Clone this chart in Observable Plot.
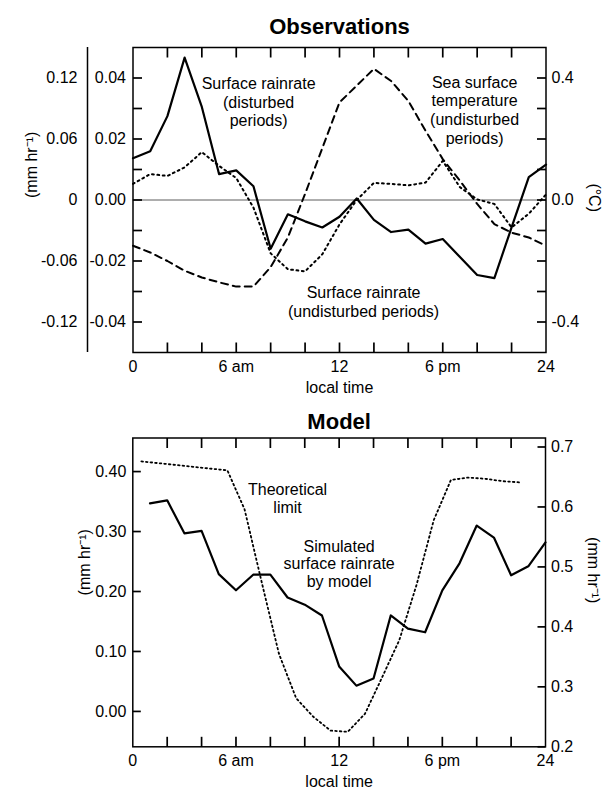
<!DOCTYPE html>
<html><head><meta charset="utf-8">
<script src="https://cdn.jsdelivr.net/npm/d3@7"></script>
<script src="https://cdn.jsdelivr.net/npm/@observablehq/plot@0.6"></script>
<style>
html,body{margin:0;padding:0;background:#fff;}
#chart svg{display:block;}
</style></head><body><div id="chart"></div>
<script>
// ---------- Observations panel data ----------
const obsHours = [0,1,2,3,4,5,6,7,8,9,10,11,12,13,14,15,16,17,18,19,20,21,22,23,24];
// Surface rainrate, disturbed periods (mm/hr, inner left axis)
const disturbedRain = [0.0137,0.016,0.0275,0.0467,0.0305,0.0085,0.0097,0.0045,-0.016,-0.0047,-0.007,-0.009,-0.0055,0.0005,-0.0065,-0.0105,-0.0097,-0.0143,-0.0128,-0.0187,-0.0246,-0.0256,-0.009,0.0075,0.0116];
// Surface rainrate, undisturbed periods (mm/hr, inner left axis)
const undisturbedRain = [0.0053,0.0085,0.0079,0.0107,0.0157,0.0112,0.0072,-0.0025,-0.0175,-0.0227,-0.0234,-0.0178,-0.008,0.0,0.0056,0.0053,0.0048,0.0057,0.0128,0.0042,0.0002,-0.0013,-0.009,-0.0045,0.0018];
// Sea surface temperature, undisturbed periods (deg C, right axis)
const seaSurfaceTemp = [-0.15,-0.172,-0.2,-0.232,-0.254,-0.27,-0.284,-0.284,-0.22,-0.123,0.02,0.17,0.32,0.375,0.43,0.39,0.325,0.227,0.134,0.063,-0.013,-0.079,-0.107,-0.123,-0.15];

const obsRainDomain = [-0.05, 0.05];
const obsTempDomain = [-0.5, 0.5];
const obsXTicks = [0, 6, 12, 18, 24];
const obsXLabels = ["0", "6 am", "12", "6 pm", "24"];
const minorXTicks = [2,4,6,8,10,12,14,16,18,20,22];
const obsRainTicks = [0.04, 0.02, 0, -0.02, -0.04];
const obsRainLabels = ["0.04", "0.02", "0.00", "-0.02", "-0.04"];
const obsOuterLabels = ["0.12", "0.06", "0", "-0.06", "-0.12"];
const obsMinorY = [-0.04,-0.03,-0.02,-0.01,0,0.01,0.02,0.03,0.04];
const obsTempTicks = [0.4, 0, -0.4];
const obsTempLabels = ["0.4", "0.0", "-0.4"];
const obsNotes = [
  {text: "Surface rainrate\n(disturbed\nperiods)", hour: 7.3, value: 0.0408},
  {text: "Sea surface\ntemperature\n(undisturbed\nperiods)", hour: 19.85, value: 0.0412},
  {text: "Surface rainrate\n(undisturbed periods)", hour: 13.4, value: -0.0278}
];

// ---------- Model panel data ----------
const modelHours = [1,2,3,4,5,6,7,8,9,10,11,12,13,14,15,16,17,18,19,20,21,22,23,24];
// Simulated surface rainrate (mm/hr, left axis)
const simulatedRain = [0.347,0.352,0.297,0.301,0.229,0.202,0.228,0.228,0.19,0.178,0.16,0.075,0.043,0.055,0.16,0.138,0.132,0.202,0.247,0.31,0.29,0.227,0.242,0.282];
const theoryHours = [0.5,1.5,2.5,3.5,4.5,5.5,6.5,7.5,8.5,9.5,10.5,11.5,12.5,13.5,14.5,15.5,16.5,17.5,18.5,19.5,20.5,21.5,22.5];
// Theoretical limit (mm/hr, right axis)
const theoreticalLimit = [0.676,0.673,0.67,0.667,0.664,0.661,0.596,0.474,0.355,0.281,0.25,0.227,0.225,0.255,0.316,0.378,0.47,0.578,0.645,0.649,0.647,0.643,0.641];

const modelLeftDomain = [-0.059, 0.456];
const modelRightDomain = [0.2, 0.715];
const modelLeftTicks = [0, 0.1, 0.2, 0.3, 0.4];
const modelLeftLabels = ["0.00", "0.10", "0.20", "0.30", "0.40"];
const modelRightTicks = [0.2, 0.3, 0.4, 0.5, 0.6, 0.7];
const modelRightLabels = ["0.2", "0.3", "0.4", "0.5", "0.6", "0.7"];
const modelNotes = [
  {text: "Theoretical\nlimit", hour: 9.0, value: 0.381},
  {text: "Simulated\nsurface rainrate\nby model", hour: 12.0, value: 0.287}
];

// ---------- helpers ----------
const font = "'Liberation Sans', Arial, Helvetica, sans-serif";
const mapDomain = (v, from, to) => to[0] + (v - from[0]) * (to[1] - to[0]) / (from[1] - from[0]);
const lookup = (keys, labels) => { const m = new Map(keys.map((k, i) => [+k.toFixed(6), labels[i]])); return d => m.get(+d.toFixed(6)); };
const ink = {stroke: "black", strokeWidth: 1.5};
const X_DOMAIN = [0, 24];

// inward tick marks drawn as links through the scales; length given in pixels
function inwardTicks(xTicks, yTicksLeft, yTicksRight, yDomain, plotW, plotH, xLen, yLen) {
  const dy = xLen * (yDomain[1] - yDomain[0]) / plotH;
  const dx = yLen * (X_DOMAIN[1] - X_DOMAIN[0]) / plotW;
  const opts = {stroke: "black", strokeWidth: 1.7, strokeLinecap: "butt"};
  return [
    Plot.link(xTicks, {x1: d => d, x2: d => d, y1: () => yDomain[0], y2: () => yDomain[0] + dy, ...opts}),
    Plot.link(xTicks, {x1: d => d, x2: d => d, y1: () => yDomain[1], y2: () => yDomain[1] - dy, ...opts}),
    Plot.link(yTicksLeft, {y1: d => d, y2: d => d, x1: () => X_DOMAIN[0], x2: () => X_DOMAIN[0] + dx, ...opts}),
    Plot.link(yTicksRight, {y1: d => d, y2: d => d, x1: () => X_DOMAIN[1], x2: () => X_DOMAIN[1] - dx, ...opts})
  ];
}

// ---------- Observations ----------
const obsRows = obsHours.map((h, i) => ({hour: h, dist: disturbedRain[i], undist: undisturbedRain[i], sst: mapDomain(seaSurfaceTemp[i], obsTempDomain, obsRainDomain)}));
const oW = 610, oH = 400, oM = {top: 47, right: 64.5, bottom: 48, left: 132.5};
const oPW = oW - oM.left - oM.right, oPH = oH - oM.top - oM.bottom;
const tempPos = obsTempTicks.map(t => mapDomain(t, obsTempDomain, obsRainDomain));

const obs = Plot.plot({
  width: oW, height: oH,
  marginTop: oM.top, marginRight: oM.right, marginBottom: oM.bottom, marginLeft: oM.left,
  x: {domain: X_DOMAIN},
  y: {domain: obsRainDomain},
  style: {fontFamily: font, fontSize: "16px", color: "black", background: "white", overflow: "visible"},
  marks: [
    Plot.ruleY([0], {stroke: "#333", strokeWidth: 0.8}),
    Plot.line(obsRows, {x: "hour", y: "sst", stroke: "black", strokeWidth: 2, strokeDasharray: "7,5"}),
    Plot.line(obsRows, {x: "hour", y: "undist", stroke: "black", strokeWidth: 2, strokeDasharray: "1.8,3.6"}),
    Plot.line(obsRows, {x: "hour", y: "dist", stroke: "black", strokeWidth: 2.2}),
    Plot.frame(ink),
    ...inwardTicks(minorXTicks, obsMinorY, obsMinorY, obsRainDomain, oPW, oPH, 10, 9),
    Plot.ruleX([0], {dx: -45.5, ...ink}),
    Plot.axisX(obsXTicks, {anchor: "bottom", tickSize: 0, tickPadding: 8, tickFormat: lookup(obsXTicks, obsXLabels), label: null}),
    Plot.axisY(obsRainTicks, {anchor: "left", tickSize: 0, tickPadding: 7, tickFormat: lookup(obsRainTicks, obsRainLabels), label: null}),
    Plot.axisY(obsRainTicks, {anchor: "left", tickSize: 0, tickPadding: 55.5, tickFormat: lookup(obsRainTicks, obsOuterLabels), label: null}),
    Plot.axisY(tempPos, {anchor: "right", tickSize: 0, tickPadding: 5.5, tickFormat: lookup(tempPos, obsTempLabels), label: null}),
    Plot.text(["Observations"], {text: d => d, frameAnchor: "top", lineAnchor: "bottom", dy: -14, fontSize: 22, fontWeight: "bold"}),
    Plot.text(["local time"], {text: d => d, frameAnchor: "bottom", lineAnchor: "bottom", dy: 40}),
    Plot.text(["(mm hr\u207B\u00B9)"], {text: d => d, frameAnchor: "left", rotate: -90, dx: -101.5, dy: -2}),
    Plot.text(["(\u00B0C)"], {text: d => d, frameAnchor: "right", rotate: 90, dx: 48.5, dy: 12}),
    Plot.text(obsNotes, {x: "hour", y: "value", text: "text", lineAnchor: "top", lineHeight: 1.17})
  ]
});

// ---------- Model ----------
const modelSim = modelHours.map((h, i) => ({hour: h, v: simulatedRain[i]}));
const modelTheory = theoryHours.map((h, i) => ({hour: h, v: mapDomain(theoreticalLimit[i], modelRightDomain, modelLeftDomain)}));
const mW = 610, mH = 391, mM = {top: 37.5, right: 65, bottom: 44.7, left: 132.3};
const mPW = mW - mM.left - mM.right, mPH = mH - mM.top - mM.bottom;
const rightPos = modelRightTicks.map(r => mapDomain(r, modelRightDomain, modelLeftDomain));

const model = Plot.plot({
  width: mW, height: mH,
  marginTop: mM.top, marginRight: mM.right, marginBottom: mM.bottom, marginLeft: mM.left,
  x: {domain: X_DOMAIN},
  y: {domain: modelLeftDomain},
  style: {fontFamily: font, fontSize: "16px", color: "black", background: "white", overflow: "visible"},
  marks: [
    Plot.line(modelTheory, {x: "hour", y: "v", stroke: "black", strokeWidth: 1.8, strokeDasharray: "1.6,3"}),
    Plot.line(modelSim, {x: "hour", y: "v", stroke: "black", strokeWidth: 2.2}),
    Plot.frame(ink),
    ...inwardTicks(minorXTicks, modelLeftTicks, rightPos, modelLeftDomain, mPW, mPH, 10, 8),
    Plot.axisX(obsXTicks, {anchor: "bottom", tickSize: 0, tickPadding: 8, tickFormat: lookup(obsXTicks, obsXLabels), label: null}),
    Plot.axisY(modelLeftTicks, {anchor: "left", tickSize: 0, tickPadding: 6.5, tickFormat: lookup(modelLeftTicks, modelLeftLabels), label: null}),
    Plot.axisY(rightPos, {anchor: "right", tickSize: 0, tickPadding: 5.5, tickFormat: lookup(rightPos, modelRightLabels), label: null}),
    Plot.text(["Model"], {text: d => d, frameAnchor: "top", lineAnchor: "bottom", dy: -9.5, fontSize: 22, fontWeight: "bold"}),
    Plot.text(["local time"], {text: d => d, frameAnchor: "bottom", lineAnchor: "bottom", dy: 40}),
    Plot.text(["(mm hr\u207B\u00B9)"], {text: d => d, frameAnchor: "left", rotate: -90, dx: -48, dy: 3}),
    Plot.text(["(mm hr\u207B\u00B9)"], {text: d => d, frameAnchor: "right", rotate: 90, dx: 48, dy: 11}),
    Plot.text(modelNotes, {x: "hour", y: "value", text: "text", lineAnchor: "top", lineHeight: 1.1})
  ]
});

document.getElementById("chart").append(obs, model);
</script>
</body></html>
